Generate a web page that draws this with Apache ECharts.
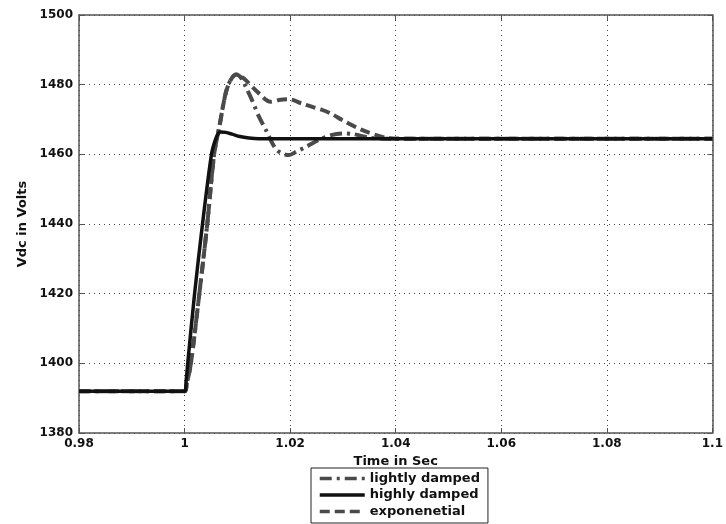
<!DOCTYPE html>
<html>
<head>
<meta charset="utf-8">
<script src="https://cdn.jsdelivr.net/npm/echarts@6/dist/echarts.min.js"></script>
<style>html,body{margin:0;padding:0;background:#fff;}#c{width:726px;height:524px;}</style>
</head>
<body>
<div id="c"></div>
<script>
// ---- data ----
var xTicks = [0.98, 1.0, 1.02, 1.04, 1.06, 1.08, 1.1];
var yTicks = [1380, 1400, 1420, 1440, 1460, 1480, 1500];
var seriesNames = ['lightly damped', 'highly damped', 'exponenetial'];

var lightT = [0.98, 1.0, 1.0004, 1.0012, 1.0028, 1.0043, 1.0056, 1.0066, 1.0078, 1.0088, 1.0098, 1.0108, 1.0116, 1.0128, 1.0141, 1.0154, 1.0172, 1.0185, 1.0198, 1.0212, 1.0231, 1.0254, 1.0275, 1.030, 1.032, 1.035, 1.038, 1.1];
var lightV = [1392, 1392, 1394, 1400, 1420, 1440, 1460, 1468, 1477.6, 1481.6, 1482.9, 1481.8, 1479.4, 1475.5, 1470.8, 1467, 1461.7, 1460.2, 1459.8, 1460.8, 1462.2, 1464.1, 1465.4, 1466, 1465.8, 1464.8, 1464.5, 1464.5];

var highT = [0.98, 1.0, 1.0003, 1.0006, 1.0019, 1.0034, 1.0051, 1.0058, 1.0064, 1.0069, 1.0078, 1.009, 1.0105, 1.0122, 1.014, 1.1];
var highV = [1392, 1392, 1395, 1400, 1420, 1440, 1460, 1464, 1466, 1466.4, 1466.3, 1465.8, 1465.1, 1464.7, 1464.5, 1464.5];

var expT = [0.98, 1.0, 1.0004, 1.0012, 1.0028, 1.0043, 1.0056, 1.0066, 1.0078, 1.0088, 1.0098, 1.0108, 1.0116, 1.0141, 1.0163, 1.0179, 1.0198, 1.0222, 1.0245, 1.026, 1.028, 1.0298, 1.0336, 1.038, 1.041, 1.1];
var expV = [1392, 1392, 1394, 1400, 1420, 1440, 1460, 1468, 1477.6, 1481.5, 1482.9, 1482.2, 1481.3, 1477.5, 1475.1, 1475.6, 1475.8, 1474.6, 1473.5, 1472.8, 1471.5, 1469.9, 1467, 1464.8, 1464.5, 1464.5];

function pairs(t, v) { return t.map(function (x, i) { return [x, v[i]]; }); }

var chart = echarts.init(document.getElementById('c'), null, { renderer: 'canvas' });
var tickFont = { fontFamily: 'DejaVu Sans', fontWeight: 'bold', fontSize: 12, color: '#111' };
var nameFont = { fontFamily: 'DejaVu Sans', fontWeight: 'bold', fontSize: 13, color: '#111' };
var gridDots = { show: true, lineStyle: { color: '#444', width: 1, type: [1, 4] } };

function xAx(pos, main) {
  return {
    type: 'value', position: pos, min: xTicks[0], max: xTicks[xTicks.length - 1], interval: 0.02,
    name: main ? 'Time in Sec' : '', nameLocation: 'middle', nameGap: 19, nameTextStyle: nameFont,
    axisLine: { show: true, lineStyle: { color: '#555', width: 1.5 } },
    axisTick: { show: true, inside: true, length: 5, lineStyle: { color: '#555' } },
    axisLabel: { show: main, margin: 5, formatter: function (v) { return String(+v.toFixed(2)); },
      fontFamily: tickFont.fontFamily, fontWeight: tickFont.fontWeight, fontSize: tickFont.fontSize, color: tickFont.color },
    splitLine: main ? gridDots : { show: false }
  };
}
function yAx(pos, main) {
  return {
    type: 'value', position: pos, min: yTicks[0], max: yTicks[yTicks.length - 1], interval: 20,
    name: main ? 'Vdc in Volts' : '', nameLocation: 'middle', nameGap: 45, nameRotate: 90, nameTextStyle: nameFont,
    axisLine: { show: true, lineStyle: { color: '#555', width: 1.5 } },
    axisTick: { show: true, inside: true, length: 5, lineStyle: { color: '#555' } },
    axisLabel: { show: main, margin: 6, formatter: function (v) { return String(v); },
      fontFamily: tickFont.fontFamily, fontWeight: tickFont.fontWeight, fontSize: tickFont.fontSize, color: tickFont.color },
    splitLine: main ? gridDots : { show: false }
  };
}

chart.setOption({
  animation: false,
  backgroundColor: '#fff',
  grid: { left: 79, right: 9, top: 15, bottom: 91, containLabel: false },
  xAxis: [xAx('bottom', true), xAx('top', false)],
  yAxis: [yAx('left', true), yAx('right', false)],
  legend: {
    data: seriesNames,
    orient: 'vertical', left: 311, top: 468,
    borderColor: '#222', borderWidth: 1, padding: [4, 8, 5, 7],
    itemWidth: 45, itemHeight: 14, itemGap: 3.5,
    lineStyle: { width: 3.5 },
    itemStyle: { opacity: 0 },
    textStyle: nameFont
  },
  series: [
    { name: seriesNames[0], type: 'line', data: pairs(lightT, lightV), symbol: 'none', smooth: 0.3,
      lineStyle: { color: '#4a4a4a', width: 4, type: [12, 5, 3, 5] }, itemStyle: { color: '#4a4a4a' }, z: 2 },
    { name: seriesNames[1], type: 'line', data: pairs(highT, highV), symbol: 'none', smooth: 0.3,
      lineStyle: { color: '#111', width: 3.5 }, itemStyle: { color: '#111' }, z: 4 },
    { name: seriesNames[2], type: 'line', data: pairs(expT, expV), symbol: 'none', smooth: 0.3,
      lineStyle: { color: '#4a4a4a', width: 4, type: [10, 5] }, itemStyle: { color: '#4a4a4a' }, z: 3 }
  ]
});
</script>
</body>
</html>
